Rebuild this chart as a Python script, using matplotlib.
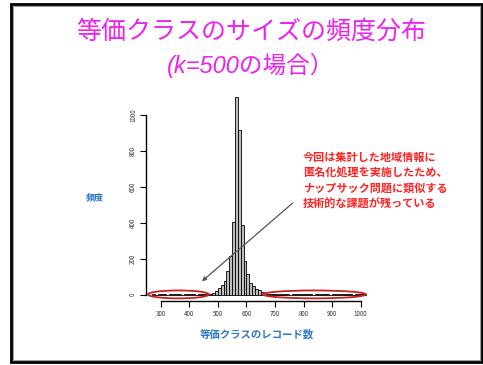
import numpy as np
import matplotlib
matplotlib.use("Agg")
import matplotlib.pyplot as plt
from matplotlib.patches import Ellipse, Rectangle

# --- DATA --------------------------------------------------------------------
BIN_START = 270
BIN_WIDTH = 10
# counts per bin of 10 records (270 .. 1000)
left_tail = [3, 0, 2, 4, 3, 0, 2, 3, 5, 4, 0, 3, 4, 2, 3, 0, 4, 3, 5, 4, 6]
core = [8, 20, 38, 54, 78, 130, 215, 405, 1098, 915, 386, 190, 118, 65, 46,
        33, 24, 15, 8, 6]
right_tail = [5, 6, 4, 3, 5, 4, 3, 0, 4, 3, 4, 2, 3, 4, 5, 0, 3, 4, 2, 3,
              5, 0, 4, 3, 3, 4, 2, 5, 3, 0, 4, 3, 2, 4]
counts = left_tail + core + right_tail

x_ticks = [300, 400, 500, 600, 700, 800, 900, 1000]
y_ticks = [0, 200, 400, 600, 800, 1000]

TITLE_1 = "等価クラスのサイズの頻度分布"
TITLE_2 = "(k=500の場合）"
X_LABEL = "等価クラスのレコード数"
Y_LABEL = "頻度"
NOTE = ("今回は集計した地域情報に\n匿名化処理を実施したため、\n"
        "ナップサック問題に類似する\n技術的な課題が残っている")

MAGENTA = "#ee22ee"
BLUE = "#2f78c8"
RED = "#ff2222"
CJK = ["Noto Sans CJK JP", "DejaVu Sans"]

plt.rcParams["font.family"] = CJK

W, H = 483, 365
fig = plt.figure(figsize=(W / 100, H / 100), dpi=100)

# slide frame
fig.patches.append(Rectangle((11 / W, 3 / H), 471 / W, 358 / H, transform=fig.transFigure,
                             fill=False, edgecolor="black", linewidth=2.0))
fig.patches.append(Rectangle((13 / W, 5 / H), 467 / W, 354 / H, transform=fig.transFigure,
                             fill=False, edgecolor="#999999", linewidth=0.7))

# titles
fig.text(0.52, 0.912, TITLE_1, color=MAGENTA, fontsize=18, ha="center", va="center")
fig.text(0.518, 0.822, TITLE_2, color=MAGENTA, fontsize=17, ha="center", va="center",
         family=["Liberation Sans", "Noto Sans CJK JP"], style="italic")

# histogram axes (R style: detached axes)
ax = fig.add_axes([146 / W, 64.3 / H, 226.1 / W, 210.7 / H])
edges = BIN_START + BIN_WIDTH * np.arange(len(counts))
ax.bar(edges, counts, width=BIN_WIDTH, align="edge", color="#bdbdbd",
       edgecolor="black", linewidth=0.6)
ax.set_xlim(248.5, 1040)
ax.set_ylim(-33, 1139)

for s in ["top", "right"]:
    ax.spines[s].set_visible(False)
ax.spines["left"].set_bounds(0, 1000)
ax.spines["bottom"].set_bounds(300, 1000)
ax.spines["left"].set_linewidth(1.0)
ax.spines["bottom"].set_linewidth(1.0)
ax.set_xticks(x_ticks)
ax.set_yticks(y_ticks)
ax.set_yticklabels([str(v) for v in y_ticks], rotation=90, va="center")
ax.tick_params(axis="both", length=4, width=0.8, labelsize=4.5, pad=2.5,
               labelcolor="#333333")

fig.text(0.5315, 0.085, X_LABEL, color=BLUE, fontsize=7.5, ha="center", va="center",
         fontweight="bold")
fig.text(0.197, 0.4575, Y_LABEL, color=BLUE, fontsize=6.5, ha="center", va="center",
         fontweight="bold")

# red ellipses around the sparse tails
for cx, w in [(362, 213), (838, 360)]:
    ax.add_patch(Ellipse((cx, 2), w, 44, fill=False, edgecolor="#cc2020",
                         linewidth=1.3, clip_on=False))

# note + arrow
fig.text(303 / W, 1 - 151 / H, NOTE, color=RED, fontsize=8, ha="left", va="top",
         fontweight="bold", linespacing=1.25)
ax.annotate("", xy=(437, 65), xytext=(770, 521),
            arrowprops=dict(arrowstyle="-|>", color="#555555", lw=0.9,
                            mutation_scale=6), annotation_clip=False)

fig.savefig("out.png", dpi=100)
